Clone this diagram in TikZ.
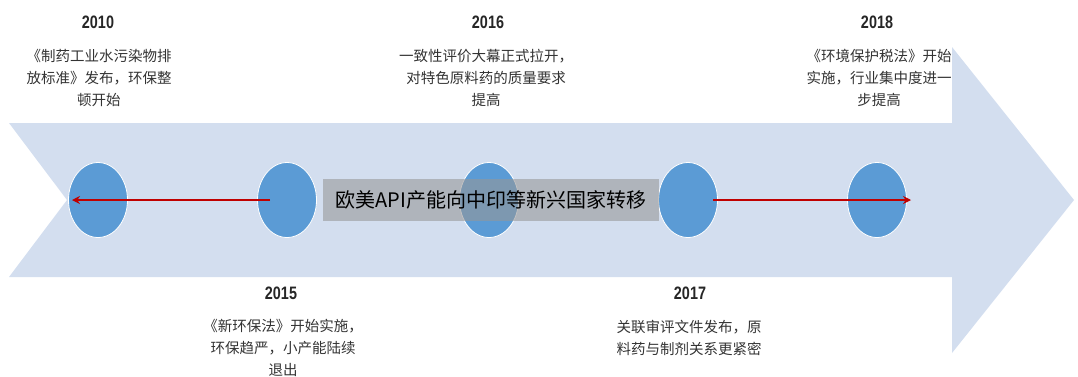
\documentclass[tikz,border=0pt]{standalone}
\usepackage{fontspec}
\newfontfamily\cjk{Noto Sans CJK SC}
\newfontfamily\yearfont[FakeStretch=0.8]{Liberation Sans Bold}
\usetikzlibrary{arrows.meta}
\definecolor{bgarrow}{HTML}{D3DEEF}
\definecolor{dotblue}{HTML}{5B9BD5}
\definecolor{darkred}{HTML}{C00000}
\definecolor{txt}{HTML}{333333}
\tikzset{
  dot/.style={ellipse, minimum width=59pt, minimum height=75pt, inner sep=0pt, fill=dotblue, draw=white, line width=0.8pt},
  year/.style={font=\yearfont\fontsize{18}{20}\selectfont, text=black!85, inner sep=0pt},
  desc/.style={font=\cjk\fontsize{14.5}{22}\selectfont, text=txt, align=center, inner sep=0pt},
  redarrow/.style={draw=darkred, line width=2.2pt, -{Stealth[length=8pt,width=8pt]}},
  graybox/.style={fill=black!41, fill opacity=0.58, text opacity=1, minimum width=336pt, minimum height=42pt, inner sep=0pt, font=\cjk\fontsize{20}{22}\selectfont, text=black}
}
\usetikzlibrary{shapes.geometric}
\begin{document}
\begin{tikzpicture}[x=1pt,y=-1pt]
\useasboundingbox (0,0) rectangle (1078,376);
% background arrow
\fill[bgarrow] (9,123) -- (952,123) -- (952,47) -- (1074,200) -- (952,353) -- (952,277) -- (9,277) -- (67,200) -- cycle;
% dots
\node[dot] (c1) at (98,200) {};
\node[dot] (c2) at (287,200) {};
\node[dot] (c3) at (489,200) {};
\node[dot] (c4) at (688,200) {};
\node[dot] (c5) at (877,200) {};
% red arrows
\coordinate (a1s) at ([xshift=-17pt]c2.center);
\coordinate (a1e) at ([xshift=-26pt]c1.center);
\draw[redarrow] (a1s) -- (a1e);
\coordinate (a2s) at ([xshift=25pt]c4.center);
\coordinate (a2e) at ([xshift=34pt]c5.center);
\draw[redarrow] (a2s) -- (a2e);
% gray box
\node[graybox] (box) at (491,200) {欧美API产能向中印等新兴国家转移};
% years
\node[year] (y2010) at (98,22) {2010};
\node[year] (y2016) at (488,22) {2016};
\node[year] (y2018) at (877,22) {2018};
\node[year] (y2015) at (281,293) {2015};
\node[year] (y2017) at (690,293) {2017};
% descriptions
\node[desc] (d2010) at (99,78) {《制药工业水污染物排\\放标准》发布，环保整\\顿开始};
\node[desc] (d2016) at (486,78) {一致性评价大幕正式拉开，\\对特色原料药的质量要求\\提高};
\node[desc] (d2018) at (879,78) {《环境保护税法》开始\\实施，行业集中度进一\\步提高};
\node[desc] (d2015) at (283,348) {《新环保法》开始实施，\\环保趋严，小产能陆续\\退出};
\node[desc] (d2017) at (689,337.5) {关联审评文件发布，原\\料药与制剂关系更紧密};
\end{tikzpicture}
\end{document}
